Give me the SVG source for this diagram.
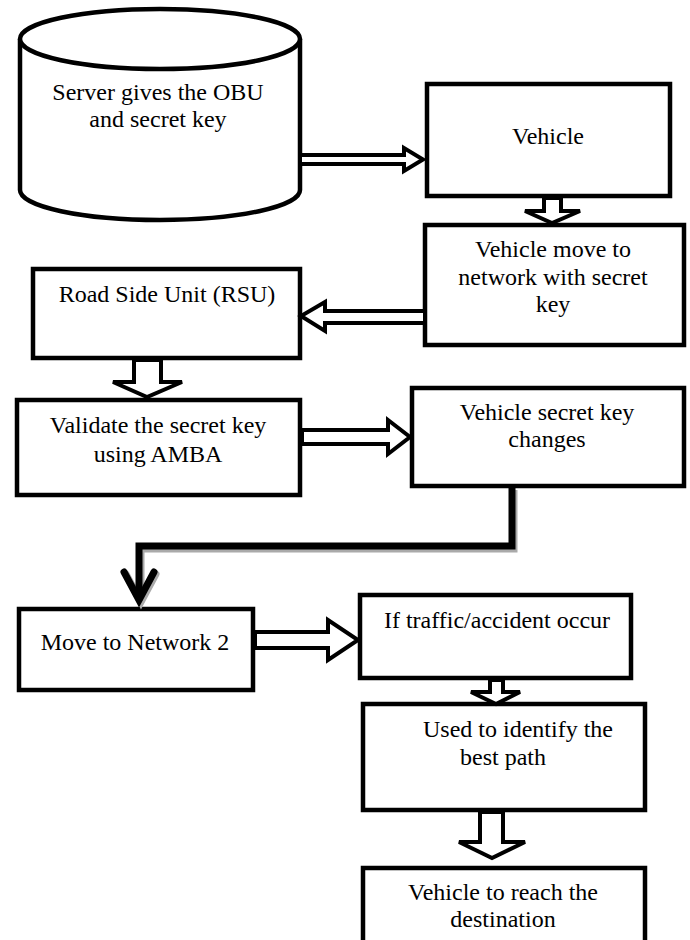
<svg xmlns="http://www.w3.org/2000/svg" width="690" height="940" viewBox="0 0 690 940">
<style>
.box{fill:#fff;stroke:#000;stroke-width:4.5}
.cyl{fill:#fff;stroke:#000;stroke-width:4.5}
.arr{fill:#fff;stroke:#000;stroke-width:4;stroke-linejoin:miter}
text{font-family:'Liberation Serif','Times New Roman',serif;font-size:24px;fill:#000;text-anchor:middle}
.thick{fill:none;stroke:#000;stroke-width:7;stroke-linejoin:miter}
.shadow{fill:none;stroke:#aaa;stroke-width:7;stroke-linejoin:miter}
</style>
<rect x="0" y="0" width="690" height="940" fill="#fff"/>

<g id="server">
<path class="cyl" d="M20,39 V190 A140,30 0 0 0 300,190 V39"/>
<ellipse class="cyl" cx="160" cy="39" rx="140" ry="30"/>
<text x="158" y="100">Server gives the OBU</text>
<text x="158" y="127">and secret key</text>
</g>

<g id="vehicle">
<rect class="box" x="427" y="84" width="243" height="112"/>
<text x="548" y="144">Vehicle</text>
</g>

<g id="move-network">
<rect class="box" x="425" y="225" width="259" height="120"/>
<text x="553" y="257">Vehicle move to</text>
<text x="553" y="285">network with secret</text>
<text x="553" y="312">key</text>
</g>

<g id="rsu">
<rect class="box" x="33" y="269" width="267" height="89"/>
<text x="167" y="302">Road Side Unit (RSU)</text>
</g>

<g id="validate">
<rect class="box" x="17" y="400" width="283" height="95"/>
<text x="158" y="433">Validate the secret key</text>
<text x="158" y="462">using AMBA</text>
</g>

<g id="key-changes">
<rect class="box" x="412" y="388" width="272" height="98"/>
<text x="547" y="420">Vehicle secret key</text>
<text x="547" y="447">changes</text>
</g>

<g id="network2">
<rect class="box" x="19" y="609" width="234" height="81"/>
<text x="135" y="650">Move to Network 2</text>
</g>

<g id="traffic">
<rect class="box" x="360" y="595" width="271" height="83"/>
<text x="497" y="628">If traffic/accident occur</text>
</g>

<g id="best-path">
<rect class="box" x="363" y="704" width="282" height="106"/>
<text x="518" y="737">Used to identify the</text>
<text x="503" y="765">best path</text>
</g>

<g id="destination">
<rect class="box" x="363" y="868" width="282" height="100"/>
<text x="503" y="900">Vehicle to reach the</text>
<text x="503" y="927">destination</text>
</g>

<g id="connectors">
<polygon class="arr" points="300,155 404,155 404,148 423,159.5 404,171 404,164 300,164"/>
<polygon class="arr" points="544,198 544,211 525,211 552,223 580,211 561,211 561,198"/>
<polygon class="arr" points="425,311 325,311 325,302 301,316 325,331 325,323 425,323"/>
<polygon class="arr" points="134,360 134,382 113,382 147,397 182,382 161,382 161,360"/>
<polygon class="arr" points="302,430 388,430 388,420 410,437 388,454 388,444 302,444"/>
<polygon class="arr" points="255,632 328,632 328,620 358,640 328,660 328,648 255,648"/>
<polygon class="arr" points="490,680 490,692 471,692 496,704 520,692 503,692 503,680"/>
<polygon class="arr" points="480,812 480,842 459,842 492,858 525,842 503,842 503,812"/>
<path class="shadow" d="M514,490 V549 H141 V598"/>
<polyline class="shadow" points="126,574 141,602 156,574" stroke-linecap="round"/>
<path class="thick" d="M512,488 V546 H139 V598"/>
<polyline class="thick" points="124,572 139,600 154,572" stroke-linecap="round" stroke-linejoin="round"/>
</g>
</svg>
